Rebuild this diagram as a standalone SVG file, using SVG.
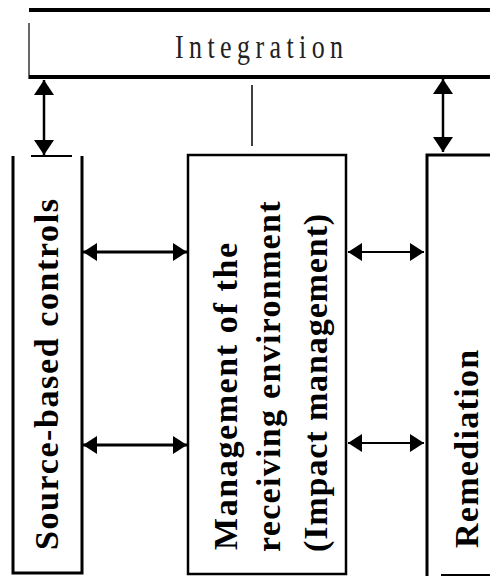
<svg xmlns="http://www.w3.org/2000/svg" width="490" height="577" viewBox="0 0 490 577">
<style>
.ln{stroke:#000;fill:none}
.lbl{font-family:"Liberation Serif","Times New Roman",serif;font-size:34px;font-weight:bold;fill:#000}
.intg{font-family:"Liberation Serif","Times New Roman",serif;font-size:26px;fill:#222;letter-spacing:5.4px}
</style>
<defs>
<marker id="ah" viewBox="0 0 15 20" refX="15" refY="10" markerWidth="15" markerHeight="20" markerUnits="userSpaceOnUse" orient="auto-start-reverse">
<path d="M0,0 L15,10 L0,20 Z" fill="#000"/>
</marker>
<marker id="ahs" viewBox="0 0 14 18" refX="14" refY="9" markerWidth="14" markerHeight="18" markerUnits="userSpaceOnUse" orient="auto-start-reverse">
<path d="M0,0 L14,9 L0,18 Z" fill="#000"/>
</marker>
</defs>
<rect width="490" height="577" fill="#fff"/>
<g id="integration">
<line class="ln" x1="29" y1="10" x2="490" y2="10" stroke-width="4"/>
<line class="ln" x1="29" y1="77" x2="490" y2="77" stroke-width="4"/>
<line class="ln" x1="29" y1="23" x2="29" y2="79" stroke-width="1.2"/>
<text class="intg" transform="translate(175,58) scale(1,1.32)">Integration</text>
</g>
<g id="source-based-controls">
<path class="ln" d="M13,156 V573 H82 V156" stroke-width="3"/>
<line class="ln" x1="31" y1="156" x2="72" y2="156" stroke-width="2"/>
<text class="lbl" transform="translate(58,550) rotate(-90)" style="letter-spacing:1.6px">Source-based controls</text>
</g>
<g id="management">
<path class="ln" d="M188,574 V155 H346 V574 Z" stroke-width="2.5"/>
<text class="lbl" transform="translate(237,550) rotate(-90)" style="letter-spacing:1.6px">Management of the</text>
<text class="lbl" transform="translate(280,552) rotate(-90)" style="letter-spacing:1.3px">receiving environment</text>
<text class="lbl" transform="translate(327,552) rotate(-90)" style="letter-spacing:0.9px">(Impact management)</text>
</g>
<g id="remediation">
<path class="ln" d="M490,155 H427 V576" stroke-width="3"/>
<line class="ln" x1="441" y1="575" x2="490" y2="575" stroke-width="2"/>
<text class="lbl" transform="translate(478,548) rotate(-90)" style="letter-spacing:1.3px">Remediation</text>
</g>
<g id="connectors">
<line class="ln" x1="44" y1="80" x2="44" y2="155" stroke-width="2.5" marker-start="url(#ah)" marker-end="url(#ah)"/>
<line class="ln" x1="443" y1="79" x2="443" y2="152" stroke-width="2.5" marker-start="url(#ah)" marker-end="url(#ah)"/>
<line class="ln" x1="252" y1="85" x2="252" y2="146" stroke-width="1.5"/>
<line class="ln" x1="83" y1="252" x2="187" y2="252" stroke-width="3" marker-start="url(#ahs)" marker-end="url(#ahs)"/>
<line class="ln" x1="83" y1="445" x2="187" y2="445" stroke-width="3" marker-start="url(#ahs)" marker-end="url(#ahs)"/>
<line class="ln" x1="348" y1="252" x2="424" y2="252" stroke-width="2" marker-start="url(#ahs)" marker-end="url(#ahs)"/>
<line class="ln" x1="348" y1="443" x2="424" y2="443" stroke-width="2" marker-start="url(#ahs)" marker-end="url(#ahs)"/>
</g>
</svg>
